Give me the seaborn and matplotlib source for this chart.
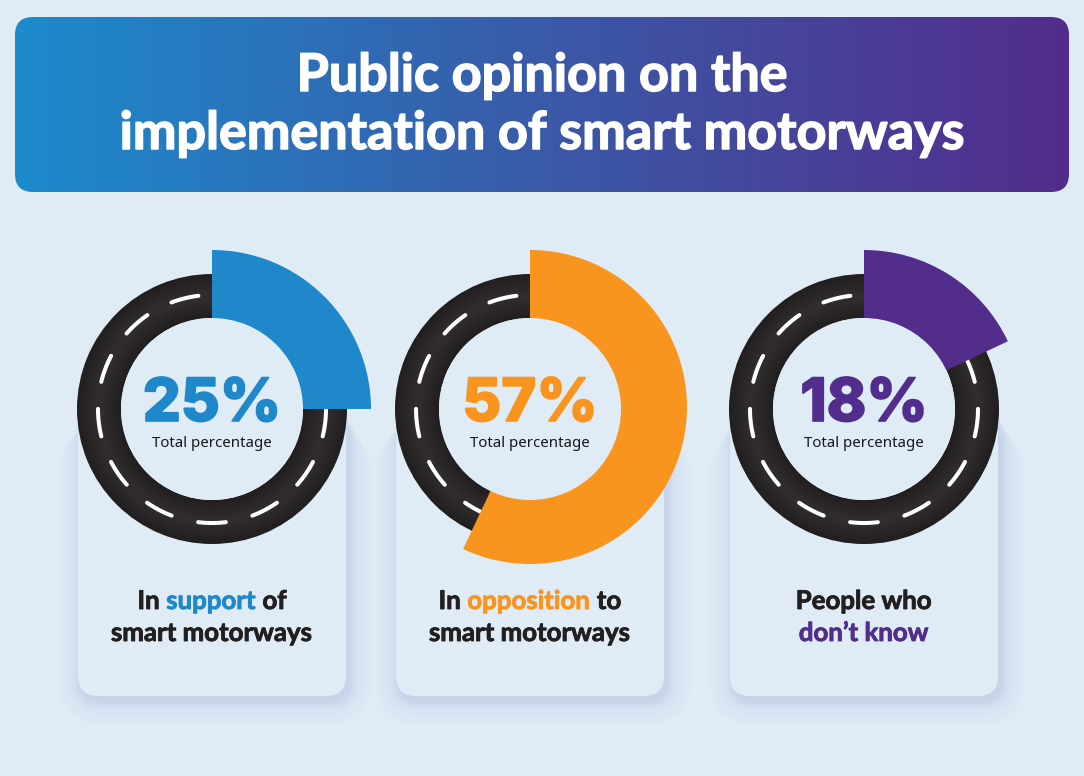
import numpy as np
import matplotlib.pyplot as plt
import matplotlib.patheffects as pe
import seaborn as sns
from matplotlib.patches import FancyBboxPatch

# Data
shares = [25, 57, 18]
colours = ['#1E88CA', '#F9951E', '#522D8B']
sublabel = 'Total percentage'
title_lines = ['Public opinion on the', 'implementation of smart motorways']
line_one = [[('In ', 0), ('support', 1), (' of', 0)],
            [('In ', 0), ('opposition', 1), (' to', 0)],
            [('People who', 0)]]
line_two = [[('smart motorways', 0)],
            [('smart motorways', 0)],
            [('don\u2019t know', 1)]]

# Layout in image pixels
W, H = 1084, 776
BG = '#DFECF6'
DARK = '#221F20'
centres_x = [212, 530, 864]
cards_x = [78, 396, 730]
wedge_r = [159, 157, 159]
wedge_cy = [409, 407, 409]

sns.set_theme(style='white')
plt.rcParams['font.family'] = ['Lato', 'DejaVu Sans']

fig = plt.figure(figsize=(W / 100, H / 100), dpi=100, facecolor=BG)
ax = fig.add_axes([0, 0, 1, 1])


def yy(py):
    return H - py


def rounded(x0, y0, x1, y1, r, **kw):
    p = FancyBboxPatch((x0 + r, yy(y1) + r), x1 - x0 - 2 * r, y1 - y0 - 2 * r,
                       boxstyle=f'round,pad={r},rounding_size={r}', lw=0, **kw)
    ax.add_patch(p)
    return p


def coloured_line(words, cx, py, colour, size):
    # lay the words out one after the other, then centre the whole row
    r = fig.canvas.get_renderer()
    items = [ax.text(0, yy(py), w.replace(' ', '\u00a0'), fontsize=size, fontweight='bold',
                     color=colour if c else DARK, va='baseline', ha='left',
                     path_effects=[pe.withStroke(linewidth=0.6, foreground=colour if c else DARK)])
             for w, c in words]
    widths = [t.get_window_extent(r).width for t in items]
    x = cx - sum(widths) / 2
    for t, w in zip(items, widths):
        t.set_x(x)
        x += w


# header bar with the gradient
bar = rounded(15, 17, 1069, 192, 18, facecolor='none')
cmap = sns.blend_palette(['#1C8BCC', '#3A5AA8', '#532C8B'], as_cmap=True)
im = ax.imshow(np.linspace(0, 1, 512)[None, :], cmap=cmap, aspect='auto',
               extent=(15, 1069, yy(192), yy(17)), zorder=1)
im.set_clip_path(bar)
for line, py in zip(title_lines, [91, 149]):
    ax.text(W / 2, yy(py), line, ha='center', va='baseline', color='white',
            fontsize=37.5, fontweight='bold', zorder=3,
            path_effects=[pe.withStroke(linewidth=1.1, foreground='white')])

ring_shades = sns.blend_palette([DARK, '#302C2D'], 10)

for i, share in enumerate(shares):
    cx, x0 = centres_x[i], cards_x[i]
    # card + soft shadow, tighter layers near the edge
    for grow in [24, 20, 16, 13, 10, 8, 6, 5, 4, 3, 2, 1]:
        rounded(x0 + 3 - grow, 410 + grow, x0 + 271 + grow, 701 + grow, 20 + grow,
                facecolor='#AEB8DE', alpha=0.035, zorder=1.5)
    rounded(x0, 400, x0 + 268, 696, 20, facecolor=BG, zorder=1.6)

    # road ring, slightly lighter along the middle
    for k, c in enumerate(ring_shades):
        pieces = ax.pie([1], colors=[c], radius=135 - 2 * k, center=(cx, yy(409)),
                        wedgeprops=dict(width=44 - 4 * k, lw=0), frame=True)
        for p in pieces[0]:
            p.set_zorder(2)

    # lane dashes, 13 around the ring starting from the bottom
    for k in range(13):
        mid = np.deg2rad(k * 360 / 13)
        a = np.linspace(mid - np.deg2rad(7), mid + np.deg2rad(7), 20)
        ax.plot(cx + 114 * np.sin(a), yy(409) - 114 * np.cos(a), color='white', lw=2.9,
                solid_capstyle='round', zorder=2.5)

    # share wedge, the disc on top keeps its inner edge clean
    pieces = ax.pie([share, 100 - share], colors=[colours[i], 'none'], startangle=90,
                    counterclock=False, radius=wedge_r[i], center=(cx, yy(wedge_cy[i])),
                    wedgeprops=dict(width=wedge_r[i] - 86, lw=0), frame=True)
    for p in pieces[0]:
        p.set_zorder(2.8)
    hole = ax.pie([1], colors=[BG], radius=91, center=(cx, yy(409)),
                  wedgeprops=dict(lw=0), frame=True)
    hole[0][0].set_zorder(2.9)

    ax.text(cx, yy(421), f'{share}%', ha='center', va='baseline', color=colours[i],
            fontsize=43, fontweight='heavy', family=['Inter', 'Lato'], zorder=4,
            path_effects=[pe.withStroke(linewidth=1.2, foreground=colours[i])])
    ax.text(cx, yy(447), sublabel, ha='center', va='baseline', color='#14181F',
            fontsize=10.8, family='Noto Sans', zorder=4)

    coloured_line(line_one[i], cx, 609, colours[i], 18.6)
    coloured_line(line_two[i], cx, 641, colours[i], 18.6)

ax.set_xlim(0, W)
ax.set_ylim(0, H)
ax.set_aspect('auto')
ax.axis('off')

fig.savefig('out.png', dpi=100, facecolor=BG)
